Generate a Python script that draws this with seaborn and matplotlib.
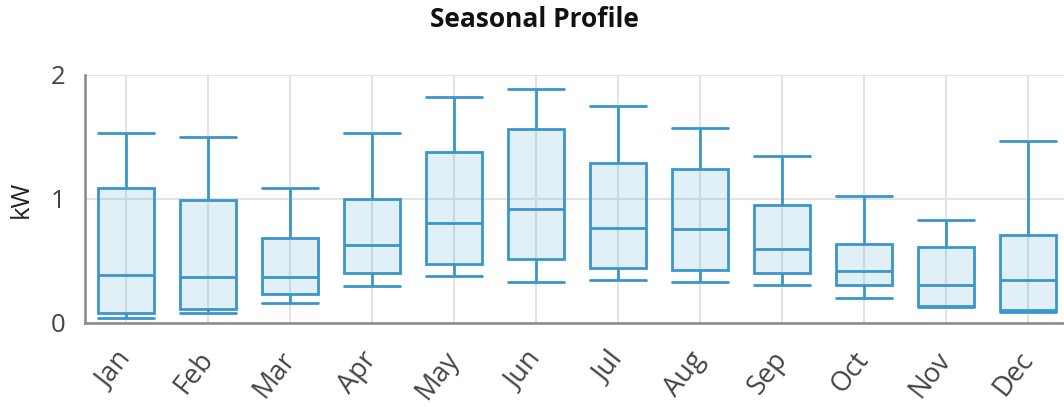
import numpy as np
import pandas as pd
import seaborn as sns
import matplotlib.pyplot as plt

sns.set_style('white')
plt.rcParams['font.family'] = ['Open Sans', 'DejaVu Sans']

# monthly load profile (kW)
months = ['Jan', 'Feb', 'Mar', 'Apr', 'May', 'Jun',
          'Jul', 'Aug', 'Sep', 'Oct', 'Nov', 'Dec']
mins    = [0.04, 0.08, 0.16, 0.30, 0.38, 0.33, 0.35, 0.33, 0.31, 0.20, 0.13, 0.09]
q1s     = [0.08, 0.115, 0.23, 0.405, 0.475, 0.52, 0.44, 0.43, 0.40, 0.31, 0.14, 0.105]
medians = [0.39, 0.37, 0.37, 0.63, 0.805, 0.92, 0.77, 0.755, 0.60, 0.42, 0.31, 0.35]
q3s     = [1.085, 0.99, 0.685, 1.00, 1.38, 1.565, 1.29, 1.245, 0.955, 0.635, 0.61, 0.71]
maxs    = [1.53, 1.50, 1.085, 1.53, 1.82, 1.89, 1.75, 1.575, 1.345, 1.025, 0.83, 1.465]

# five points per month -> quartiles land exactly on the read values
rows = []
for i, m in enumerate(months):
    for v in (mins[i], q1s[i], medians[i], q3s[i], maxs[i]):
        rows.append({'month': m, 'kW': v})
df = pd.DataFrame(rows)

edge = '#3a96cc'
W, H = 1064, 407
fig = plt.figure(figsize=(W / 100, H / 100), dpi=100)
ax = fig.add_axes([85 / W, (H - 323) / H, (1069 - 85) / W, (323 - 75) / H])

sns.boxplot(data=df, x='month', y='kW', order=months, whis=(0, 100),
            width=0.68, color=edge, linecolor=edge, saturation=1,
            linewidth=2, showfliers=False, capwidths=0.68, ax=ax)

for p in ax.patches:
    p.set_facecolor((0.227, 0.588, 0.8, 0.15))
    p.set_edgecolor(edge)
for ln in ax.lines:
    ln.set_color(edge)
    ln.set_linewidth(2)

ax.set_ylim(0, 2)
ax.set_xlim(-0.5, 11.5)
ax.set_yticks([0, 1, 2])
ax.grid(True, color='#e3e3e3', linewidth=1.5)
ax.set_axisbelow(True)
for s in ['top', 'right']:
    ax.spines[s].set_visible(False)
for s in ['left', 'bottom']:
    ax.spines[s].set_color('#888888')
    ax.spines[s].set_linewidth(1.8)

ax.tick_params(axis='both', length=9, width=1.8, color='#888888',
               labelsize=18.5, labelcolor='#444444')
ax.tick_params(axis='x', pad=14, labelsize=19.5)
ax.tick_params(axis='y', pad=5)
plt.setp(ax.get_xticklabels(), rotation=52, ha='right', va='center',
         rotation_mode='anchor')
ax.set_xlabel('')
ax.set_ylabel('kW', fontsize=18.5, color='#222222', labelpad=12)

fig.text(534 / W, 1 - 27 / H, 'Seasonal Profile', ha='center', va='baseline',
         fontsize=19, fontweight='bold', color='#111111')

fig.savefig('out.png', dpi=100)
